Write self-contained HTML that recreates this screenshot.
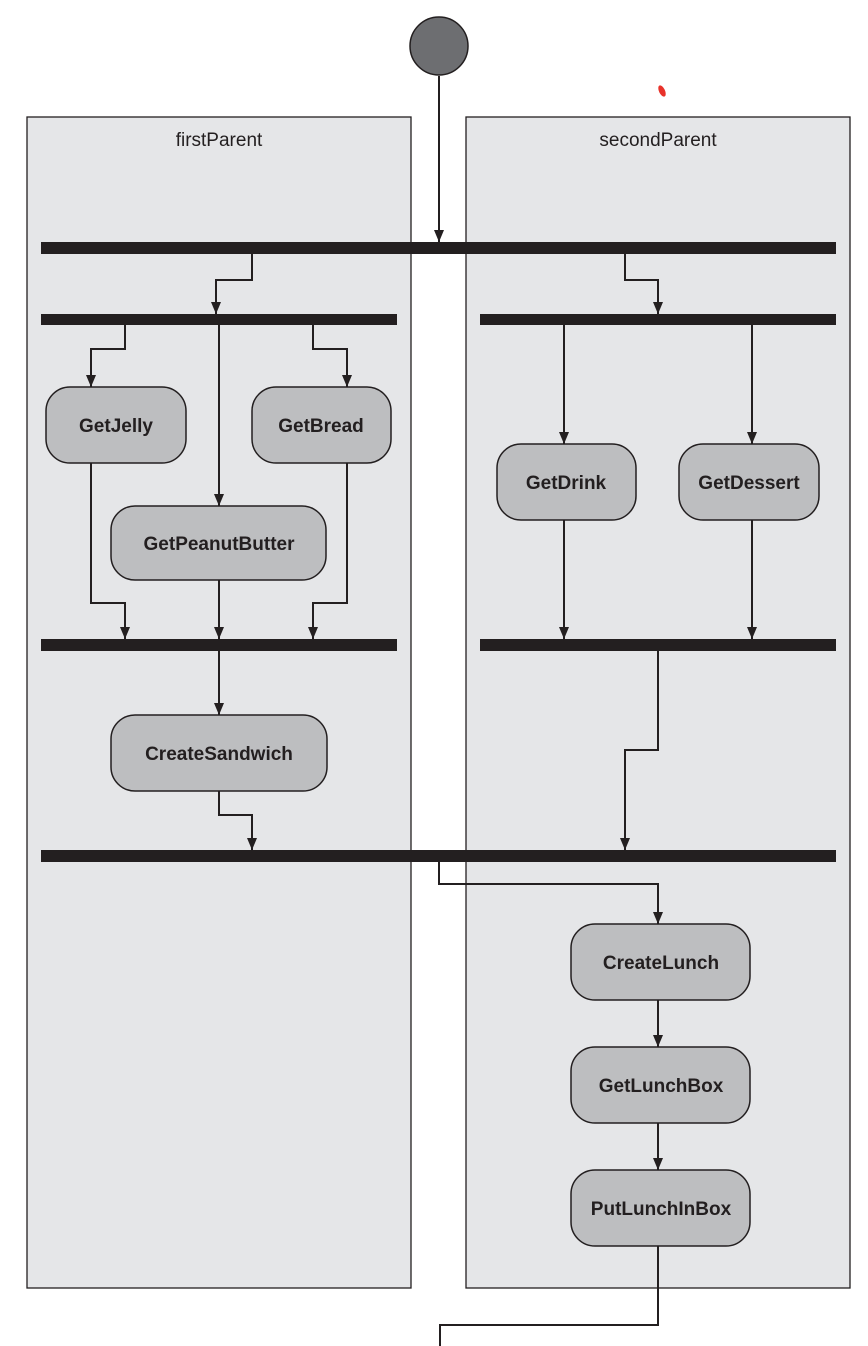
<!DOCTYPE html>
<html><head><style>
html,body{margin:0;padding:0;background:#fff}
svg{display:block}
.n{fill:#bdbec0;stroke:#231f20;stroke-width:1.5}
.t{font-family:"Liberation Sans",sans-serif;font-weight:bold;font-size:19px;fill:#231f20;text-anchor:middle}
.l{fill:none;stroke:#231f20;stroke-width:2}
.b{fill:#231f20}
</style></head><body>
<svg width="868" height="1346" viewBox="0 0 868 1346" xmlns="http://www.w3.org/2000/svg">
<defs><marker id="a" markerWidth="10" markerHeight="10" refX="5" refY="9" orient="auto" markerUnits="userSpaceOnUse" viewBox="0 0 10 10"><path d="M0,0 L10,0 L5,10 z" fill="#231f20" transform="rotate(-90 5 5) rotate(90 5 5)"/></marker>
<marker id="d" markerWidth="10" markerHeight="12" refX="5" refY="12" orient="0" markerUnits="userSpaceOnUse" viewBox="0 0 10 12"><path d="M0,0 L10,0 L5,12 z" fill="#231f20"/></marker></defs>
<rect x="27" y="117" width="384" height="1171" fill="#e5e6e8" stroke="#231f20" stroke-width="1.3"/>
<rect x="466" y="117" width="384" height="1171" fill="#e5e6e8" stroke="#231f20" stroke-width="1.3"/>
<text x="219" y="146" font-family="Liberation Sans,sans-serif" font-size="19" fill="#231f20" text-anchor="middle">firstParent</text>
<text x="658" y="146" font-family="Liberation Sans,sans-serif" font-size="19" fill="#231f20" text-anchor="middle">secondParent</text>
<circle cx="439" cy="46" r="29" fill="#6d6e71" stroke="#231f20" stroke-width="1.5"/>
<ellipse cx="662" cy="91" rx="3" ry="6" fill="#e8322a" transform="rotate(-25 662 91)"/>
<g class="l">
<path d="M439 76 V242" marker-end="url(#d)"/>
<path d="M252 254 V280 H216 V314" marker-end="url(#d)"/>
<path d="M625 254 V280 H658 V314" marker-end="url(#d)"/>
<path d="M125 325 V349 H91 V387" marker-end="url(#d)"/>
<path d="M219 325 V506" marker-end="url(#d)"/>
<path d="M313 325 V349 H347 V387" marker-end="url(#d)"/>
<path d="M91 463 V603 H125 V639" marker-end="url(#d)"/>
<path d="M219 580 V639" marker-end="url(#d)"/>
<path d="M347 463 V603 H313 V639" marker-end="url(#d)"/>
<path d="M564 325 V444" marker-end="url(#d)"/>
<path d="M752 325 V444" marker-end="url(#d)"/>
<path d="M564 520 V639" marker-end="url(#d)"/>
<path d="M752 520 V639" marker-end="url(#d)"/>
<path d="M219 651 V715" marker-end="url(#d)"/>
<path d="M219 791 V815 H252 V850" marker-end="url(#d)"/>
<path d="M658 651 V750 H625 V850" marker-end="url(#d)"/>
<path d="M439 862 V884 H658 V924" marker-end="url(#d)"/>
<path d="M658 1000 V1047" marker-end="url(#d)"/>
<path d="M658 1123 V1170" marker-end="url(#d)"/>
<path d="M658 1246 V1325 H440 V1346"/>
</g>
<rect class="b" x="41" y="242" width="795" height="12"/>
<rect class="b" x="41" y="314" width="356" height="11"/>
<rect class="b" x="480" y="314" width="356" height="11"/>
<rect class="b" x="41" y="639" width="356" height="12"/>
<rect class="b" x="480" y="639" width="356" height="12"/>
<rect class="b" x="41" y="850" width="795" height="12"/>
<rect class="n" x="46" y="387" width="140" height="76" rx="24"/><text class="t" x="116" y="432">GetJelly</text>
<rect class="n" x="252" y="387" width="139" height="76" rx="24"/><text class="t" x="321" y="432">GetBread</text>
<rect class="n" x="111" y="506" width="215" height="74" rx="24"/><text class="t" x="219" y="550">GetPeanutButter</text>
<rect class="n" x="497" y="444" width="139" height="76" rx="24"/><text class="t" x="566" y="489">GetDrink</text>
<rect class="n" x="679" y="444" width="140" height="76" rx="24"/><text class="t" x="749" y="489">GetDessert</text>
<rect class="n" x="111" y="715" width="216" height="76" rx="24"/><text class="t" x="219" y="760">CreateSandwich</text>
<rect class="n" x="571" y="924" width="179" height="76" rx="24"/><text class="t" x="661" y="969">CreateLunch</text>
<rect class="n" x="571" y="1047" width="179" height="76" rx="24"/><text class="t" x="661" y="1092">GetLunchBox</text>
<rect class="n" x="571" y="1170" width="179" height="76" rx="24"/><text class="t" x="661" y="1215">PutLunchInBox</text>
</svg>
</body></html>
